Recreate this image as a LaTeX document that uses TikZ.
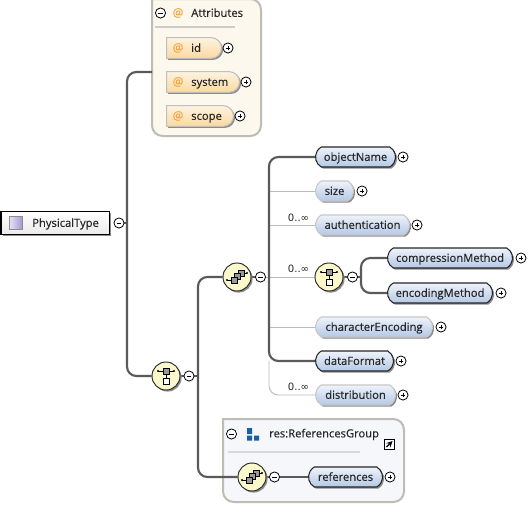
\documentclass[tikz,border=0pt]{standalone}
\usepackage{fontspec}
\setmainfont[RawFeature={embolden=0.4}]{Open Sans}
\newfontfamily\occfont{DejaVu Sans}
\usetikzlibrary{shapes.misc,shadows,calc,backgrounds}
\definecolor{elemtop}{HTML}{EEF3FA}
\definecolor{elembot}{HTML}{B4C8E6}
\definecolor{attrtop}{HTML}{FDF3E0}
\definecolor{attrbot}{HTML}{FBD9A0}
\definecolor{attrfill}{HTML}{FDF8EE}
\definecolor{grpfill}{HTML}{F5F7FB}
\definecolor{boxline}{HTML}{BDBDB5}
\definecolor{conn}{HTML}{5A5A5A}
\definecolor{thinline}{HTML}{BBBBBB}
\definecolor{atcol}{HTML}{F0A848}
\definecolor{compfill}{HTML}{FBF8CC}
\definecolor{iconblue}{HTML}{1C5FA8}
\definecolor{rootl}{HTML}{E8E2F4}
\definecolor{rootr}{HTML}{A99AD6}
\tikzset{
  x=0.75pt,y=-0.75pt,
  shadowed/.style={general shadow={shadow xshift=1.2pt,shadow yshift=-1.2pt,fill=black!45}},
  txt/.style={font=\fontsize{8.4pt}{10pt}\selectfont,text=black!85,inner sep=0pt,text height=7.2pt,text depth=1.4pt},
  reqel/.style={rounded rectangle,rounded rectangle arc length=120,draw=black!85,line width=.8pt,top color=elemtop,bottom color=elembot,shadowed,minimum height=15pt,inner sep=0pt,txt},
  optel/.style={reqel,draw=black!22},
  attrel/.style={rounded rectangle,rounded rectangle west arc=none,draw=black!25,line width=.8pt,top color=attrtop,bottom color=attrbot,shadowed,minimum height=15.5pt,inner sep=0pt},
  pm/.style={circle,draw=black,fill=white,line width=.6pt,minimum size=7.6pt,inner sep=0pt},
  plusn/.style={pm,path picture={\draw[line width=.6pt] ($(path picture bounding box.center)+(-1.8pt,0)$) -- ($(path picture bounding box.center)+(1.8pt,0)$) ($(path picture bounding box.center)+(0,-1.8pt)$) -- ($(path picture bounding box.center)+(0,1.8pt)$);}},
  minusn/.style={pm,path picture={\draw[line width=.6pt] ($(path picture bounding box.center)+(-1.8pt,0)$) -- ($(path picture bounding box.center)+(1.8pt,0)$);}},
  comp/.style={circle,draw=black!85,line width=.7pt,fill=compfill,minimum size=21pt,inner sep=0pt,shadowed},
  thickconn/.style={draw=conn,line width=1.6pt,rounded corners=7pt},
  thinconn/.style={draw=thinline,line width=.7pt,rounded corners=7pt},
  midconn/.style={draw=conn,line width=.9pt},
  occ/.style={font=\occfont\fontsize{7.6pt}{9pt}\selectfont,inner sep=0pt,text=black!85},
  atsign/.style={font=\fontsize{9pt}{10pt}\selectfont,text=atcol,inner sep=0pt},
}
\newcommand{\choiceicon}[1]{%
  \begin{scope}[shift={(#1)}]
    \draw[black,line width=.6pt] (-8,-5) -- (8,-5) (0,-5) -- (0,2);
    \fill[black] (-8,-5) circle (1.1) (8,-5) circle (1.1);
    \draw[black,fill=black!40,line width=.6pt] (-3,-8) rectangle (3,-2);
    \draw[black,fill=white,line width=.6pt] (-3,2) rectangle (3,8);
  \end{scope}}
\newcommand{\seqicon}[1]{%
  \begin{scope}[shift={(#1)}]
    \draw[black,line width=.6pt] (-10,3) -- (-6,3) (7,-4) -- (10,-4);
    \fill[black] (-10,3) circle (1.1) (10,-4) circle (1.1);
    \draw[black,fill=black!40,line width=.6pt] (1,-7) rectangle (7,-1);
    \draw[black,fill=black!40,line width=.6pt] (-3,-4) rectangle (3,2);
    \draw[black,fill=black!40,line width=.6pt] (-6,0) rectangle (0,6);
  \end{scope}}
\begin{document}
\begin{tikzpicture}
\useasboundingbox (0,0) rectangle (529,504);
\coordinate (attrin) at (152,72);
\node[minusn] (mA) at (160.5,13) {};
\node[atsign] (atA) at (178,13) {@};
\node[txt,anchor=west] (tA) at (191,13) {Attributes};
\foreach \n/\w/\y/\px in {id/55/48/228,system/73/82/246,scope/67/116/240}{
  \pgfmathsetmacro{\bw}{\w*0.75}
  \node[attrel,minimum width=\bw pt,anchor=west] (a\n) at (166,\y) {};
  \node[atsign] (at\n) at (178,\y) {@};
  \node[txt,anchor=west] (t\n) at (191,\y) {\n};
  \node[plusn] (pa\n) at (\px,\y) {};
}
\node[minusn] (mG) at (231.5,434) {};
\fill[iconblue] (247,428) rectangle (252,434) (247,435.5) rectangle (252,440.5) (254,435.5) rectangle (259,440.5);
\node[txt,anchor=west] (tG) at (269,433.5) {res:ReferencesGroup};
\node[draw=black,fill=white,line width=.7pt,minimum size=7.5pt,inner sep=0pt] (lnk) at (389.5,444) {};
\draw[black,line width=1pt,-stealth] (386.5,447) -- (392.5,441);
% Root
\node[draw=black,line width=.9pt,top color=white,bottom color=black!8,shadowed,minimum width=81pt,minimum height=17pt,inner sep=0pt,anchor=west] (root) at (0.5,223) {};
\node[draw=black!45,left color=rootl,right color=rootr,line width=.4pt,minimum size=9.5pt,inner sep=0pt] (rooticon) at (15.5,223) {};
\node[txt,anchor=west] (troot) at (32,223) {PhysicalType};
\node[minusn] (mR) at (119,223) {};
% Compositors
\node[comp] (ch1) at (166,376) {};
\choiceicon{ch1}
\node[minusn] (m1) at (189,376) {};
\node[comp] (sq1) at (237,277) {};
\seqicon{sq1}
\node[minusn] (m2) at (260.5,277) {};
\node[comp] (ch2) at (329,277) {};
\choiceicon{ch2}
\node[minusn] (m3) at (352.5,277) {};
\node[comp] (sq2) at (252,477) {};
\seqicon{sq2}
\node[minusn] (m4) at (274.5,477) {};
% Elements
\foreach \n/\st/\xa/\xb/\y/\px in {objectName/reqel/315/395/157/403,size/optel/315/353/191/362,authentication/optel/315/409/225/417,compressionMethod/reqel/387/512/258/521,encodingMethod/reqel/387/492/293/501,characterEncoding/optel/315/432/327/441,dataFormat/reqel/315/393/361/401,distribution/optel/315/395/395/403,references/reqel/308/382/477/390}{
  \pgfmathsetmacro{\bw}{(\xb-\xa)*0.75}
  \node[\st,minimum width=\bw pt,anchor=west] (\n) at (\xa,\y) {\n};
  \node[plusn] (p\n) at (\px,\y) {};
}
% Occurrence labels
\node[occ] (o1) at (298.5,218) {0..∞};
\node[occ] (o2) at (298.5,269) {0..∞};
\node[occ] (o3) at (298.5,387) {0..∞};
% Boxes and connectors go below the nodes
\begin{scope}[on background layer]
\fill[white] (0,0) rectangle (529,504);
\path[draw=boxline,fill=attrfill,line width=1.5pt,rounded corners=8] (152,-1) -- (261,-1) -- (261,136) -- (152,136) [sharp corners] -- cycle;
\draw[black!20,line width=1pt] (155,27) -- (235,27);
\path[draw=boxline,fill=grpfill,line width=1.5pt,rounded corners=8] (223,419) -- (404,419) -- (404,502) -- (223,502) [sharp corners] -- cycle;
\draw[black!15,line width=1pt] (228,452) -- (360,452);
\coordinate (tr1) at (127,223);
\coordinate (tr2) at (198,376);
\coordinate (tr3) at (269,277);
\coordinate (tr4) at (361,277);
\draw[thinconn] (tr3 |- dataFormat) -- (tr3 |- distribution) -- (distribution);
\draw[thinconn] (tr3 |- size) -- (size);
\draw[thinconn] (tr3 |- authentication) -- (authentication);
\draw[thinconn] (tr3 |- ch2) -- (ch2);
\draw[thinconn] (tr3 |- characterEncoding) -- (characterEncoding);
\draw[thinconn] (m2) -- (tr3);
\draw[thickconn] (attrin) -- (tr1 |- attrin) -- (tr1 |- ch1) -- (ch1);
\draw[midconn] (mR) -- (tr1);
\draw[thickconn] (sq1) -- (tr2 |- sq1) -- (tr2 |- sq2) -- (sq2);
\draw[midconn] (m1) -- (tr2);
\draw[midconn] (ch1) -- (m1);
\draw[midconn] (sq1) -- (m2);
\draw[thickconn] (objectName) -- (tr3 |- objectName) -- (tr3 |- dataFormat) -- (dataFormat);
\draw[thickconn] (compressionMethod) -- (tr4 |- compressionMethod) -- (tr4 |- encodingMethod) -- (encodingMethod);
\draw[midconn] (m3) -- (tr4);
\draw[midconn] (m4) -- (references);
\draw[midconn] (ch2) -- (m3);
\draw[midconn] (sq2) -- (m4);
\end{scope}
\end{tikzpicture}
\end{document}
